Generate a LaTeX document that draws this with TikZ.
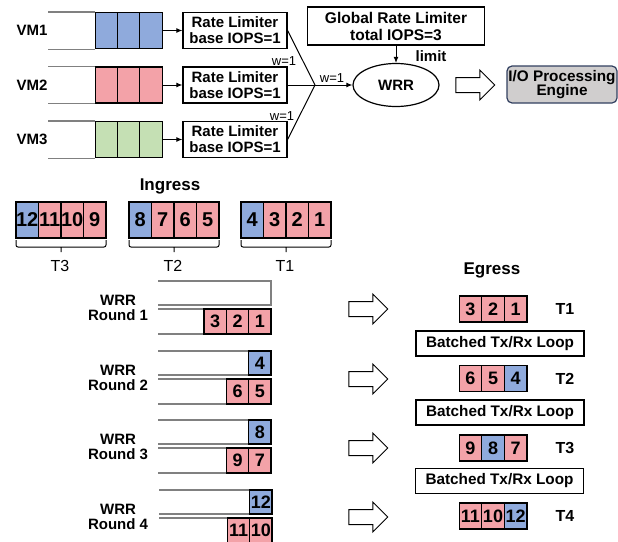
\documentclass[tikz,border=0pt]{standalone}
\usepackage{fontspec}
\setmainfont{Liberation Sans}
\usepackage{xcolor}
\usetikzlibrary{shapes.geometric,shapes.arrows,arrows.meta}
\definecolor{vmblue}{RGB}{143,170,220}
\definecolor{vmpink}{RGB}{243,162,168}
\definecolor{vmgreen}{RGB}{197,224,180}
\definecolor{qgray}{RGB}{128,128,128}
\definecolor{iogray}{RGB}{208,206,206}
\definecolor{ioedge}{RGB}{50,64,96}

\newcommand{\bfsz}[1]{\bfseries\fontsize{#1}{#1}\selectfont}

\tikzset{
  cell/.style={draw, line width=1.2pt, minimum width=22.4pt, minimum height=#1, inner sep=0pt, font=\bfsz{18}},
  cell/.default=24pt,
  bcell/.style={cell=#1, fill=vmblue}, bcell/.default=24pt,
  pcell/.style={cell=#1, fill=vmpink}, pcell/.default=24pt,
  gcell/.style={cell=#1, fill=vmgreen}, gcell/.default=24pt,
  bignum/.style={font=\bfsz{20}},
  qline/.style={draw=qgray, line width=1.2pt},
  brk/.style={draw, line width=1pt, rounded corners=2pt},
  rlbox/.style={draw, line width=1.2pt, minimum width=104pt, minimum height=36pt, inner sep=0pt, align=center, font=\bfseries\fontsize{15}{16}\selectfont},
  loopbox/.style={draw, line width=1.2pt, minimum width=168pt, minimum height=25pt, inner sep=0pt, font=\bfsz{15.3}},
  fatarrow/.style={single arrow, draw, line width=1pt, fill=white, inner xsep=0pt, inner ysep=7pt, minimum height=39pt, single arrow head extend=7.5pt},
  lab/.style={inner sep=0pt, font=\bfsz{15}, align=center},
  wlab/.style={inner sep=0pt, font=\fontsize{13}{13}\selectfont},
  tlab/.style={inner sep=0pt, font=\fontsize{16}{16}\selectfont},
  arr/.style={-{Latex[length=6pt,width=5pt]}, line width=1pt}
}

\begin{document}
\begin{tikzpicture}[x=1pt, y=-1pt]
      \useasboundingbox (0,0) rectangle (618,541);

      % VM queues
      \node[lab] (vm1) at (32,30.5) {VM1};
      \node[lab] (vm2) at (32,85) {VM2};
      \node[lab] (vm3) at (32,139.5) {VM3};

      \node[bcell=36pt] (vmA1) at (107,30.5) {};
      \node[bcell=36pt] (vmA2) at (129,30.5) {};
      \node[bcell=36pt] (vmA3) at (151,30.5) {};
      \node[pcell=36pt] (vmB1) at (107,85) {};
      \node[pcell=36pt] (vmB2) at (129,85) {};
      \node[pcell=36pt] (vmB3) at (151,85) {};
      \node[gcell=36pt] (vmC1) at (107,139.5) {};
      \node[gcell=36pt] (vmC2) at (129,139.5) {};
      \node[gcell=36pt] (vmC3) at (151,139.5) {};

      \draw[qline] (vmA1.north west) -- ++(-47,0) (vmA1.south west) -- ++(-47,0);
      \draw[qline] (vmB1.north west) -- ++(-47,0) (vmB1.south west) -- ++(-47,0);
      \draw[qline] (vmC1.north west) -- ++(-47,0) (vmC1.south west) -- ++(-47,0);

      % rate limiters
      \node[rlbox] (rl1) at (235,30.5) {Rate Limiter\\base IOPS=1};
      \node[rlbox] (rl2) at (235,85) {Rate Limiter\\base IOPS=1};
      \node[rlbox] (rl3) at (235,139.5) {Rate Limiter\\base IOPS=1};

      \draw[arr] (vmA3.east) -- (rl1.west);
      \draw[arr] (vmB3.east) -- (rl2.west);
      \draw[arr] (vmC3.east) -- (rl3.west);

      \coordinate (merge) at (315,85);
      \draw[line width=1pt] (rl1.east) -- (merge);
      \draw[line width=1pt] (rl2.east) -- (merge);
      \draw[line width=1pt] (rl3.east) -- (merge);
      \node[wlab] (w1) at (284,61) {w=1};
      \node[wlab] (w3) at (282,116) {w=1};
      \node[wlab] (w2) at (332,78) {w=1};

      % WRR and global limiter
      \node[draw, ellipse, line width=1.2pt, minimum width=86pt, minimum height=43pt, inner sep=0pt, font=\bfsz{15}] (wrr) at (396,85) {WRR};
      \draw[arr] (merge) -- (wrr.west);

      \node[rlbox, minimum width=177pt, minimum height=38pt, font=\bfseries\fontsize{15.5}{17}\selectfont] (grl) at (396,26) {Global Rate Limiter\\total IOPS=3};
      \draw[arr] (grl.south) -- (wrr.north);
      \node[lab] (lim) at (431,56) {limit};

      \node[fatarrow] (fa0) at (471.5,85) {};
      \node[draw=ioedge, fill=iogray, line width=1.2pt, rounded corners=5pt, minimum width=110pt, minimum height=37pt, inner sep=0pt, align=center, font=\bfseries\fontsize{15.3}{14.5}\selectfont] (io) at (562,84.5) {I/O Processing\\Engine};

      % Ingress
      \node[inner sep=0pt, font=\bfsz{17}] (ing) at (170,186) {Ingress};

      \node[bcell=36pt, bignum] (in12) at (27.25,220) {12};
      \node[pcell=36pt, bignum] (in11) at (49.75,220) {11};
      \node[pcell=36pt, bignum] (in10) at (72.25,220) {10};
      \node[pcell=36pt, bignum] (in9) at (94.75,220) {9};
      \node[bcell=36pt, bignum] (in8) at (140.25,220) {8};
      \node[pcell=36pt, bignum] (in7) at (162.75,220) {7};
      \node[pcell=36pt, bignum] (in6) at (185.25,220) {6};
      \node[pcell=36pt, bignum] (in5) at (207.75,220) {5};
      \node[bcell=36pt, bignum] (in4) at (252.25,220) {4};
      \node[pcell=36pt, bignum] (in3) at (274.75,220) {3};
      \node[pcell=36pt, bignum] (in2) at (297.25,220) {2};
      \node[pcell=36pt, bignum] (in1) at (319.75,220) {1};

      \draw[brk] (16,240) -- (16,247) -- (106,247) -- (106,240) (61,247) -- (61,252);
      \draw[brk] (129,240) -- (129,247) -- (219,247) -- (219,240) (174,247) -- (174,252);
      \draw[brk] (241,240) -- (241,247) -- (331,247) -- (331,240) (286,247) -- (286,252);
      \node[tlab] (t3) at (60,266) {T3};
      \node[tlab] (t2) at (173,266) {T2};
      \node[tlab] (t1) at (285,266) {T1};

      % WRR rounds
      \node[lab] (r1) at (118,307.5) {WRR\\Round 1};
      \draw[qline] (158,281) -- (271,281) -- (271,305) -- (158,305);
      \draw[qline] (158,309) -- (271,309) (158,334) -- (271,334);
      \node[pcell=25pt] (rA3) at (215.25,321.5) {3};
      \node[pcell=25pt] (rA2) at (237.55,321.5) {2};
      \node[pcell=25pt] (rA1) at (259.85,321.5) {1};

      \node[lab] (r2) at (118,377.5) {WRR\\Round 2};
      \draw[qline] (158,351) -- (271,351) (158,375) -- (271,375);
      \draw[qline] (158,379) -- (271,379) (158,404) -- (271,404);
      \node[bcell] (rB4) at (259.85,363) {4};
      \node[pcell=25pt] (rB6) at (237.55,391.5) {6};
      \node[pcell=25pt] (rB5) at (259.85,391.5) {5};

      \node[lab] (r3) at (118,446.5) {WRR\\Round 3};
      \draw[qline] (158,420) -- (271,420) (158,444) -- (271,444);
      \draw[qline] (158,448) -- (271,448) (158,473) -- (271,473);
      \node[bcell] (rC8) at (259.85,432) {8};
      \node[pcell=25pt] (rC9) at (237.55,460.5) {9};
      \node[pcell=25pt] (rC7) at (259.85,460.5) {7};

      \node[lab] (r4) at (118,516.5) {WRR\\Round 4};
      \draw[qline] (159,490) -- (272,490) (159,514) -- (272,514);
      \draw[qline] (159,518) -- (272,518) (159,543) -- (272,543);
      \node[bcell] (rD12) at (260.85,502) {12};
      \node[pcell=25pt] (rD11) at (238.55,530.5) {11};
      \node[pcell=25pt] (rD10) at (260.85,530.5) {10};

      % Egress
      \node[inner sep=0pt, font=\bfsz{17}] (egr) at (492,270) {Egress};

      \node[fatarrow] (fa1) at (364.5,309) {};
      \node[fatarrow] (fa2) at (364.5,379) {};
      \node[fatarrow] (fa3) at (364.5,448) {};
      \node[fatarrow] (fa4) at (364.5,517) {};

      \node[pcell=26pt] (eA3) at (470.3,309) {3};
      \node[pcell=26pt] (eA2) at (493,309) {2};
      \node[pcell=26pt] (eA1) at (515.7,309) {1};
      \node[lab, font=\bfsz{16}] (eT1) at (565,309) {T1};

      \node[loopbox] (lp1) at (500,343.5) {Batched Tx/Rx Loop};

      \node[pcell=26pt] (eB6) at (470.3,378.5) {6};
      \node[pcell=26pt] (eB5) at (493,378.5) {5};
      \node[bcell=26pt] (eB4) at (515.7,378.5) {4};
      \node[lab, font=\bfsz{16}] (eT2) at (565,379) {T2};

      \node[loopbox] (lp2) at (500,412.5) {Batched Tx/Rx Loop};

      \node[pcell=26pt] (eC9) at (470.3,448) {9};
      \node[bcell=26pt] (eC8) at (493,448) {8};
      \node[pcell=26pt] (eC7) at (515.7,448) {7};
      \node[lab, font=\bfsz{16}] (eT3) at (565,448) {T3};

      \node[loopbox] (lp3) at (499.5,481) {Batched Tx/Rx Loop};

      \node[pcell=26pt] (eD11) at (470.3,516) {11};
      \node[pcell=26pt] (eD10) at (493,516) {10};
      \node[bcell=26pt] (eD12) at (515.7,516) {12};
      \node[lab, font=\bfsz{16}] (eT4) at (565,516) {T4};

\end{tikzpicture}
\end{document}
